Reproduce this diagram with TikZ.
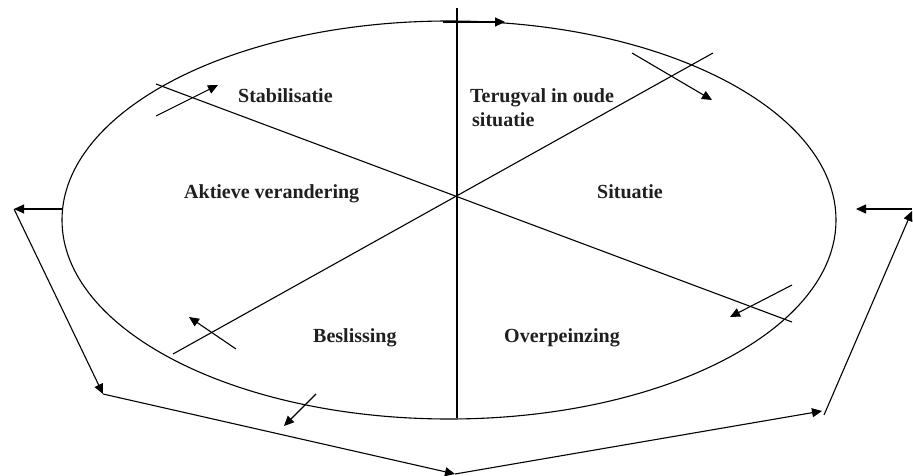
\documentclass[tikz,border=0pt]{standalone}
\usepackage{fontspec}
\setmainfont{Liberation Serif}
\usetikzlibrary{arrows.meta}
\begin{document}
\begin{tikzpicture}[x=1pt,y=-1pt,
  ln/.style={line width=1.1pt},
  arr/.style={line width=1.1pt,-{Triangle[length=10pt,width=9pt]}},
  lbl/.style={anchor=base west,inner sep=0pt,font=\bfseries\fontsize{20}{23}\selectfont,text=black!88}]
\useasboundingbox (0,0) rectangle (913,476);
% ellipse
\draw[ln] (449,220) ellipse [x radius=387, y radius=199];
% spokes
\coordinate (v1) at (457,8);   \coordinate (v2) at (457,418);
\coordinate (a1) at (156,84);  \coordinate (a2) at (792,322);
\coordinate (b1) at (173,354); \coordinate (b2) at (713,53);
\draw[ln] (v1) -- (v2);
\draw[ln] (a1) -- (a2);
\draw[ln] (b1) -- (b2);
% labels
\node[lbl] (stab) at (238,103) {Stabilisatie};
\node[lbl] (terug) at (470,103) {Terugval in oude};
\node[lbl] (sit2) at (472,127) {situatie};
\node[lbl] (akt) at (184,198) {Aktieve verandering};
\node[lbl] (sit) at (597,198) {Situatie};
\node[lbl] (besl) at (313,342) {Beslissing};
\node[lbl] (over) at (504,342) {Overpeinzing};
% small arrows
\coordinate (s1) at (156,116); \coordinate (s2) at (218,85);
\coordinate (t1) at (632,53);  \coordinate (t2) at (712,100);
\coordinate (r1) at (792,285); \coordinate (r2) at (730,317);
\coordinate (l1) at (236,349); \coordinate (l2) at (189,317);
\coordinate (d1) at (316,394); \coordinate (d2) at (284,426);
\coordinate (u1) at (443,22);  \coordinate (u2) at (505,22);
\draw[arr] (s1) -- (s2);
\draw[arr] (t1) -- (t2);
\draw[arr] (r1) -- (r2);
\draw[arr] (l1) -- (l2);
\draw[arr] (d1) -- (d2);
\draw[arr] (u1) -- (u2);
% outer loop
\coordinate (ew) at (62,209);  \coordinate (lw) at (14,209);
\coordinate (lc) at (103,394); \coordinate (bc) at (455,474);
\coordinate (rc) at (822,411); \coordinate (rs) at (824,415);
\coordinate (rt) at (912,211); \coordinate (rw) at (912,209);
\coordinate (er) at (856,209);
\draw[arr] (ew) -- (lw);
\draw[arr] (lw) -- (lc);
\draw[arr] (lc) -- (bc);
\draw[arr] (bc) -- (rc);
\draw[arr] (rs) -- (rt);
\draw[arr] (rw) -- (er);
\end{tikzpicture}
\end{document}
